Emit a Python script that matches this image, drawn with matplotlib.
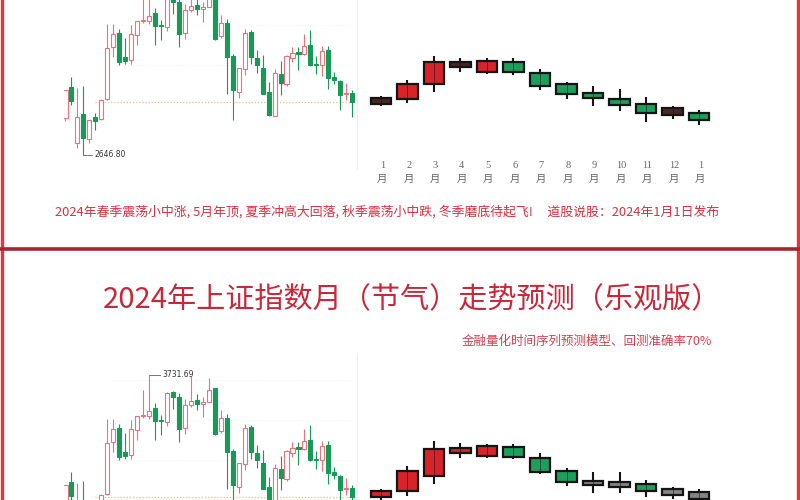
import matplotlib
matplotlib.use('Agg')
import matplotlib.pyplot as plt
from matplotlib.patches import Rectangle
from matplotlib.lines import Line2D
import matplotlib.transforms as mtransforms

plt.rcParams['font.family'] = ['Noto Sans CJK SC', 'DejaVu Sans']

# monthly SSE candles, Dec 2019 .. Dec 2023
hist_open = [2872, 3066, 2716, 2899, 2743, 2878, 2867, 2991, 3315, 3404, 3254, 3233, 3388,
             3474, 3474, 3526, 3449, 3436, 3622, 3592, 3398, 3543, 3576, 3548, 3564,
             3649, 3383, 3464, 3256, 3035, 3177, 3405, 3249, 3186, 3035, 2889, 3148,
             3087, 3249, 3283, 3271, 3325, 3204, 3201, 3294, 3127, 3102, 3025, 3026]
hist_high = [3050, 3127, 3058, 3074, 2860, 2905, 2990, 3458, 3455, 3425, 3368, 3451, 3474,
             3637, 3731.69, 3558, 3481, 3625, 3628, 3619, 3582, 3723, 3613, 3592, 3709,
             3651, 3513, 3489, 3273, 3186, 3424, 3417, 3297, 3263, 3097, 3177, 3226,
             3264, 3312, 3314, 3396, 3419, 3256, 3322, 3322, 3159, 3110, 3089, 3046]
hist_low = [2857, 2955, 2685, 2646.80, 2719, 2797, 2860, 2984, 3253, 3202, 3209, 3210, 3325,
            3461, 3455, 3328, 3355, 3411, 3522, 3312, 3366, 3530, 3515, 3470, 3560,
            3357, 3371, 3023, 2864, 2997, 3142, 3211, 3155, 3021, 2885, 2885, 3017,
            3073, 3222, 3174, 3263, 3199, 3149, 3133, 3053, 3084, 2923, 2986, 2882]
hist_close = [3050.12, 2976.53, 2880.30, 2750.30, 2860.08, 2852.35, 2984.67, 3310.01, 3395.68,
              3218.05, 3224.53, 3391.76, 3473.07, 3483.07, 3509.08, 3441.91, 3446.86, 3615.48,
              3591.20, 3397.36, 3543.94, 3568.17, 3547.34, 3563.89, 3639.78, 3361.44, 3462.31,
              3252.20, 3047.06, 3186.43, 3398.62, 3253.24, 3202.14, 3024.39, 2893.48, 3151.34,
              3089.26, 3255.67, 3279.61, 3272.86, 3323.27, 3204.56, 3202.06, 3291.04, 3119.88,
              3110.48, 3018.77, 3029.67, 2974.93]

month_labels = ['1', '2', '3', '4', '5', '6', '7', '8', '9', '10', '11', '12', '1']

# forecast 1 (top panel)
fc1_open = [2961, 2992, 3083, 3192, 3159, 3223, 3151, 3085, 3027, 2990, 2959, 2934, 2906]
fc1_high = [3010, 3110, 3260, 3248, 3244, 3248, 3178, 3099, 3074, 3052, 3002, 2950, 2923]
fc1_low = [2948, 2969, 3037, 3161, 3145, 3141, 3047, 2992, 2950, 2919, 2847, 2865, 2830]
fc1_close = [2996, 3083, 3219, 3223, 3229, 3157, 3072, 3023, 2996, 2954, 2903, 2892, 2861]
fc1_kind = ['flat', 'up', 'up', 'flat', 'up', 'down', 'down', 'down', 'down', 'down', 'down', 'flat', 'down']

# forecast 2, optimistic (bottom panel)
fc2_open = [2971, 3010, 3103, 3244, 3229, 3281, 3217, 3134, 3074, 3068, 3052, 3023, 3006]
fc2_high = [3023, 3167, 3322, 3306, 3300, 3300, 3248, 3151, 3130, 3126, 3081, 3037, 3023]
fc2_low = [2954, 2979, 3052, 3217, 3213, 3209, 3116, 3041, 3000, 3000, 2971, 2959, 2942]
fc2_close = [3010, 3134, 3271, 3279, 3287, 3223, 3130, 3068, 3047, 3037, 3010, 2985, 2961]
fc2_kind = ['up', 'up', 'up', 'up', 'up', 'down', 'down', 'down', 'flat', 'flat', 'down', 'flat', 'flat']

title = '2024年上证指数月（节气）走势预测（乐观版）'
subtitle = '金融量化时间序列预测模型、回测准确率70%'
note = '2024年春季震荡小中涨, 5月年顶, 夏季冲高大回落, 秋季震荡小中跌, 冬季磨底待起飞!     道股说股：2024年1月1日发布'

UP_EDGE = '#e8737f'
DOWN = '#179a58'
RED = '#d9232b'
TEXT_RED = '#d8303f'

W, H = 800, 500
fig = plt.figure(figsize=(8, 5), dpi=100)
fig.patch.set_facecolor('white')


def box(l, t, r, b):
    return [l / W, 1 - b / H, (r - l) / W, (b - t) / H]


YLO, YHI = 2551, 3854


def draw_history(ax, mark_low=True, mark_high=True):
    n = len(hist_open)
    for i in range(n):
        o, h, l, c = hist_open[i], hist_high[i], hist_low[i], hist_close[i]
        up = c >= o
        col = UP_EDGE if up else DOWN
        ax.vlines(i, l, h, color=col, lw=0.8, zorder=2)
        ax.add_patch(Rectangle((i - 0.34, min(o, c)), 0.68, max(abs(c - o), 4),
                               facecolor='white' if up else DOWN, edgecolor=col,
                               lw=0.8, zorder=3))
    for lvl in [3200, 3450, 3700]:
        ax.hlines(lvl, 8, n - 1, colors='#eeeeee', linestyles=(0, (1, 2)), lw=0.6, zorder=1)
    ax.hlines(hist_close[-1], 5, n - 1, colors='#dcc08a', linestyles=(0, (1, 1.5)), lw=0.9, zorder=1)
    ax.axvline(n - 0.2, color='#eeeeee', lw=0.8, zorder=1)
    # low / high markers
    if mark_low:
        il = hist_low.index(min(hist_low))
        ax.plot([il, il + 1.4], [hist_low[il]] * 2, color='#777777', lw=0.7, zorder=2)
        ax.text(il + 1.9, hist_low[il], '%.2f' % hist_low[il], fontsize=5.5, color='#333333',
                va='center', ha='left', family='DejaVu Sans')
    if mark_high:
        ih = hist_high.index(max(hist_high))
        ax.plot([ih, ih + 1.8], [hist_high[ih]] * 2, color='#777777', lw=0.7, zorder=2)
        ax.text(ih + 2.3, hist_high[ih], '%.2f' % hist_high[ih], fontsize=5.5, color='#333333',
                va='center', ha='left', family='DejaVu Sans')
    ax.set_xlim(-0.2, 49.3)
    ax.set_ylim(YLO, YHI)
    ax.axis('off')


def draw_forecast(ax, o, h, l, c, kind, flat_col):
    colors = {'up': RED, 'down': '#1d9e5c', 'flat': flat_col}
    for j in range(len(o)):
        ax.vlines(j, l[j], h[j], color='#151515', lw=1.5, zorder=2)
        ax.add_patch(Rectangle((j - 0.39, min(o[j], c[j])), 0.78, max(abs(c[j] - o[j]), 6),
                               facecolor=colors[kind[j]], edgecolor='#151515', lw=1.6, zorder=3))
        ax.vlines(j, min(o[j], c[j]), max(o[j], c[j]), color='#151515', lw=0.7,
                  alpha=0.55, zorder=4)
    ax.set_xlim(-0.79, 12.79)
    ax.set_ylim(YLO, YHI)
    ax.axis('off')


# top panel
ax1 = fig.add_axes(box(64.3, -40, 360, 170))
draw_history(ax1, mark_low=True, mark_high=False)
axf1 = fig.add_axes(box(360, -40, 720, 170))
draw_forecast(axf1, fc1_open, fc1_high, fc1_low, fc1_close, fc1_kind, '#4a2626')
trans = mtransforms.blended_transform_factory(axf1.transData, fig.transFigure)
for j, lbl in enumerate(month_labels):
    axf1.text(j + 0.05, 1 - 165 / H, lbl, transform=trans, ha='center', va='center',
              fontsize=7.5, color='#666666', family=['Liberation Serif', 'DejaVu Serif'])
    axf1.text(j + 0.05, 1 - 179 / H, '月', transform=trans, ha='center', va='center',
              fontsize=7.5, color='#666666')
fig.text(387 / W, 1 - 212 / H, note, ha='center', va='center', fontsize=9.3,
         color=TEXT_RED)

# bottom panel
ax2 = fig.add_axes(box(64.3, 355, 360, 565))
draw_history(ax2, mark_low=False, mark_high=True)
axf2 = fig.add_axes(box(360, 355, 720, 565))
draw_forecast(axf2, fc2_open, fc2_high, fc2_low, fc2_close, fc2_kind, '#858585')
fig.text(412 / W, 1 - 300 / H, title, ha='center', va='center', fontsize=21,
         color='#c8283a', fontweight='light')
fig.text(587 / W, 1 - 341 / H, subtitle, ha='center', va='center', fontsize=9,
         color='#d2404f')

# red frames
fig.add_artist(Line2D([1.5 / W, 1.5 / W], [0, 1], color='#e8333c', lw=2.4))
fig.add_artist(Line2D([797.5 / W, 797.5 / W], [0, 1], color='#e8333c', lw=2.4))
fig.add_artist(Line2D([0, 1], [1 - 249 / H, 1 - 249 / H], color='#a8232f', lw=2.6))

fig.savefig('out.png', dpi=100)
